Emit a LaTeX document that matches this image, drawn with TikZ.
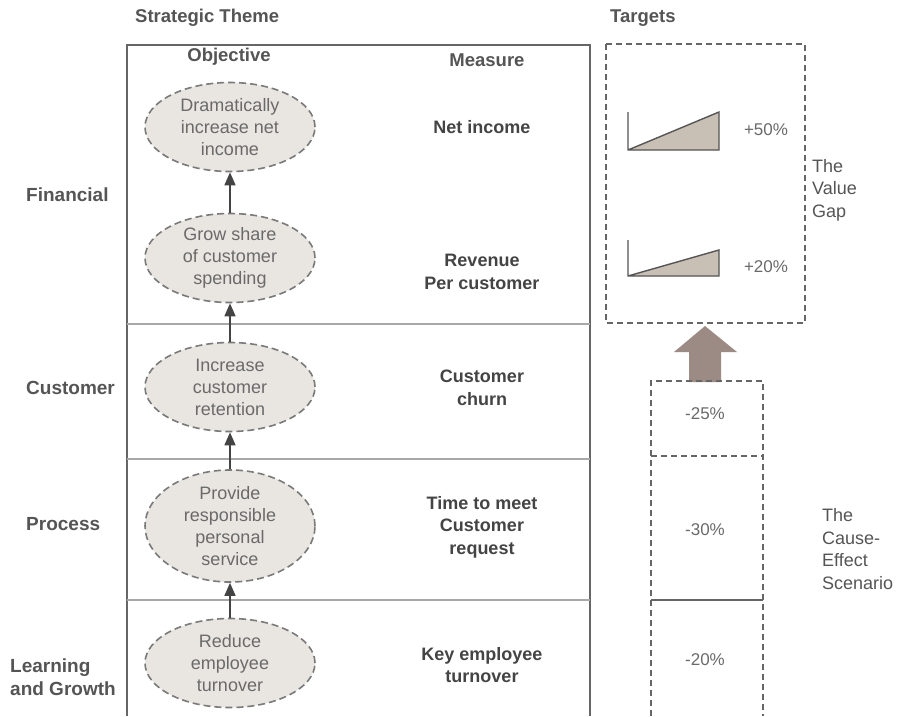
\documentclass[tikz,border=0pt]{standalone}
\usepackage{fontspec}
\setmainfont{Liberation Sans}
\usetikzlibrary{shapes.geometric,arrows.meta}
\definecolor{frameC}{HTML}{666666}
\definecolor{divC}{HTML}{A8A8A8}
\definecolor{ellFill}{HTML}{E9E6E1}
\definecolor{ellLine}{HTML}{7A7A7A}
\definecolor{txtDark}{HTML}{444444}
\definecolor{txtMid}{HTML}{555555}
\definecolor{txtLight}{HTML}{6A6A6A}
\definecolor{triFill}{HTML}{C9C0B5}
\definecolor{bigArrow}{HTML}{9C8A85}
\begin{document}
\begin{tikzpicture}[x=1pt,y=-1pt,
  heading/.style={font=\fontsize{18.5}{22}\selectfont\bfseries, text=txtMid, anchor=west, inner sep=0pt},
  colhead/.style={font=\fontsize{18.5}{22}\selectfont\bfseries, text=txtMid, inner sep=0pt},
  sidelabel/.style={font=\fontsize{19}{23}\selectfont\bfseries, text=txtMid, anchor=west, align=left, inner sep=0pt},
  measure/.style={font=\fontsize{18}{22.5}\selectfont\bfseries, text=txtDark, align=center, inner sep=0pt},
  objective/.style={ellipse, draw=ellLine, fill=ellFill, dash pattern=on 7pt off 4pt, line width=1.6pt,
     minimum width=170pt, minimum height=89pt, inner sep=0pt, align=center,
     font=\fontsize{18}{22}\selectfont, text=txtLight},
  link/.style={draw=txtDark, line width=1.5pt, -{Triangle[length=13pt,width=11pt]}},
  dashbox/.style={draw=frameC, line width=1.2pt, dash pattern=on 6pt off 4pt},
  pct/.style={font=\fontsize{17}{21}\selectfont, text=txtLight, inner sep=0pt},
  note/.style={font=\fontsize{18}{22.5}\selectfont, text=txtMid, anchor=west, align=left, inner sep=0pt},
  chartline/.style={draw=txtMid, line width=1.4pt}
]
\useasboundingbox[fill=white] (0,0) rectangle (905,716);

% headings
\node[heading] (hst) at (135,18) {Strategic Theme};
\node[heading] (htg) at (610,18) {Targets};

% main frame
\draw[frameC, line width=1.4pt] (127,716) -- (127,45) -- (590,45) -- (590,716);
\draw[divC, line width=1.3pt] (127,324) -- (590,324);
\draw[divC, line width=1.3pt] (127,459) -- (590,459);
\draw[divC, line width=1.3pt] (127,600) -- (590,600);

% column headings
\node[colhead] (cobj) at (229,57) {Objective};
\node[colhead] (cmea) at (487,60) {Measure};

% side labels
\node[sidelabel] (lfin) at (26,195) {Financial};
\node[sidelabel] (lcus) at (26,388) {Customer};
\node[sidelabel] (lpro) at (26,524) {Process};
\node[sidelabel] (llea) at (10,677) {Learning\\and Growth};

% objectives
\node[objective] (e1) at (230,127) {Dramatically\\increase net\\income};
\node[objective] (e2) at (230,258) {Grow share\\of customer\\spending};
\node[objective] (e3) at (230,387) {Increase\\customer\\retention};
\node[objective, minimum height=106pt] (e4) at (230,526) {Provide\\responsible\\personal\\service};
\node[objective] (e5) at (230,663) {Reduce\\employee\\turnover};

\draw[link] (e2) -- (e1);
\draw[link] (e3) -- (e2);
\draw[link] (e4) -- (e3);
\draw[link] (e5) -- (e4);

% measures
\node[measure] (m1) at (482,127) {Net income};
\node[measure] (m2) at (482,272) {Revenue\\Per customer};
\node[measure] (m3) at (482,388) {Customer\\churn};
\node[measure] (m4) at (482,527) {Time to meet\\Customer\\request};
\node[measure] (m5) at (482,665) {Key employee\\turnover};

% targets box
\draw[dashbox] (606,44) rectangle (805,323);
\fill[triFill] (628,150) -- (719,112) -- (719,150) -- cycle;
\draw[chartline] (628,112) -- (628,150) -- (719,150) -- (719,112) -- (628,150);
\node[pct] (t1) at (766,130) {+50\%};
\fill[triFill] (628,276) -- (719,250) -- (719,276) -- cycle;
\draw[chartline] (628,240) -- (628,276) -- (719,276) -- (719,250) -- (628,276);
\node[pct] (t2) at (766,267) {+20\%};
\node[note] (vg) at (812,190) {The\\Value\\Gap};

% big arrow
\fill[bigArrow] (705,326) -- (737,352) -- (721,352) -- (721,382) -- (689,382) -- (689,352) -- (674,352) -- cycle;

% cause-effect box
\draw[dashbox] (651,716) -- (651,381) -- (763,381) -- (763,716);
\draw[dashbox] (651,456) -- (763,456);
\draw[frameC, line width=1.2pt] (651,600) -- (763,600);
\node[pct] (c1) at (705,414) {-25\%};
\node[pct] (c2) at (705,530) {-30\%};
\node[pct] (c3) at (705,660) {-20\%};
\node[note] (ce) at (822,549) {The\\Cause-\\Effect\\Scenario};
\end{tikzpicture}
\end{document}
